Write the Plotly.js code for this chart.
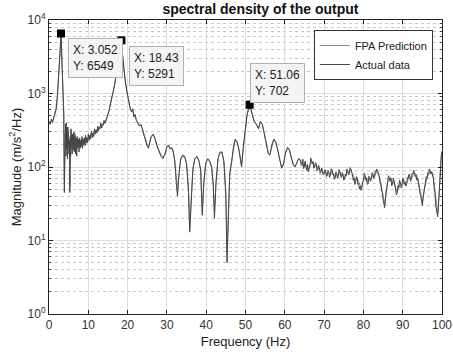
<!DOCTYPE html>
<html>
<head>
<meta charset="utf-8">
<script src="https://cdn.plot.ly/plotly-3.0.1.min.js"></script>
<style>html,body{margin:0;padding:0;background:#fff;}#chart{width:453px;height:358px;}</style>
</head>
<body>
<div id="chart"></div>
<script>
var freqFPA = [0,0.3,0.6,0.9,1.2,1.5,1.8,2.1,2.4,2.7,3.052,3.3,3.6,3.8,3.9,4.0,4.2,4.4,4.6,4.8,5.0,5.2,5.3,5.4,5.6,5.8,6.0,6.3,6.6,6.9,7.2,7.5,7.8,8.1,8.4,8.7,9.0,9.3,9.6,10.0,10.4,10.8,11.2,11.6,12.0,12.4,12.8,13.2,13.6,14.0,14.4,14.8,15.2,15.6,16.0,16.4,16.8,17.2,17.6,18.0,18.43,18.7,19.0,19.4,19.8,20.2,20.6,21.0,21.3,21.6,21.9,22.2,22.6,23.0,23.4,23.8,24.2,24.6,25.0,25.3,25.6,26.0,26.5,27.0,27.5,28.0,28.5,29.0,29.5,30.0,30.4,30.8,31.2,31.6,32.0,32.4,32.7,33.0,33.5,34.0,34.5,35.0,35.5,35.8,36.1,36.6,37.1,37.6,38.1,38.6,39.0,39.4,39.9,40.4,40.9,41.4,41.8,42.1,42.5,43.0,43.5,44.0,44.5,45.0,45.3,45.6,46.0,46.5,47.0,47.4,47.8,48.2,48.6,49.0,49.4,49.9,50.4,51.06,51.6,52.2,52.8,53.3,53.8,54.3,54.8,55.3,55.8,56.2,56.7,57.2,57.7,58.2,58.7,59.2,59.7,60.2,60.7,61.2,61.7,62.2,62.6,63.0,63.5,64.0,64.4,64.8,65.2,65.6,66.0,66.4,66.8,67.2,67.6,68.0,68.4,68.8,69.2,69.6,70.0,70.4,70.8,71.2,71.6,72.0,72.4,72.8,73.2,73.6,74.0,74.4,74.8,75.2,75.6,76.0,76.4,76.8,77.2,77.6,78.0,78.4,78.8,79.2,79.6,80.0,80.4,80.8,81.2,81.6,82.0,82.4,82.8,83.2,83.6,84.0,84.4,84.8,85.2,85.5,85.8,86.2,86.6,87.0,87.4,87.8,88.2,88.6,89.0,89.4,89.8,90.2,90.6,91.0,91.4,91.8,92.2,92.6,93.0,93.4,93.8,94.2,94.6,95.0,95.4,95.8,96.2,96.6,97.0,97.4,97.8,98.2,98.6,98.9,99.2,99.5,99.8,100.0];

var fpaPrediction = [400,410,430,420,460,540,620,900,1500,3000,6400,2600,950,520,60,280,220,350,170,310,240,190,55,250,300,180,270,210,290,200,250,190,230,210,240,220,235,250,230,260,250,290,280,310,300,340,340,370,370,410,410,470,570,720,870,1080,1450,1950,2700,3900,5200,3400,2100,1450,1050,780,640,570,600,490,510,440,410,370,370,330,270,240,200,185,215,255,275,245,195,165,145,135,150,185,195,180,180,160,125,70,45,75,125,140,138,112,50,15,35,95,128,138,122,92,25,65,112,128,118,98,58,24,65,128,155,158,118,45,7,25,85,125,195,235,225,185,145,105,175,330,510,690,550,415,375,335,410,375,285,205,155,148,195,235,215,172,125,100,112,155,180,168,132,108,102,112,128,122,108,98,115,92,88,102,120,115,102,106,95,96,88,88,82,86,78,83,80,89,82,72,80,77,85,74,78,70,78,87,84,92,82,72,64,70,62,57,54,64,75,72,62,70,69,78,74,83,88,77,62,48,35,31,48,62,70,71,60,64,52,46,53,60,57,66,63,60,68,73,70,78,83,79,72,57,43,33,47,62,72,80,88,85,72,48,28,23,38,85,135,165];

var freqActual = [0,0.3,0.6,0.9,1.2,1.5,1.8,2.1,2.4,2.7,3.052,3.3,
3.6,3.75,3.9,4.0,4.1,4.2,4.3,4.4,4.5,4.6,4.7,4.8,4.9,5.0,5.1,5.2,5.3,5.4,5.5,5.6,5.7,5.8,5.9,6.0,6.15,6.3,6.45,6.6,6.75,6.9,7.05,7.2,7.35,7.5,7.65,7.8,7.95,8.1,8.25,8.4,8.55,8.7,8.85,9.0,9.15,9.3,9.45,9.6,9.8,10.0,10.2,10.4,10.6,10.8,11.0,11.2,11.4,11.6,11.8,12.0,12.2,12.4,12.6,12.8,13.0,13.2,13.4,13.6,13.8,14.0,14.2,14.4,14.6,14.8,
15.2,15.6,16.0,16.4,16.8,17.2,17.6,18.0,18.43,18.7,19.0,19.4,19.8,20.2,20.6,21.0,21.3,21.6,21.9,22.2,22.6,23.0,23.4,23.8,24.2,24.6,25.0,25.3,25.6,26.0,26.5,27.0,27.5,28.0,28.5,29.0,29.5,30.0,30.4,30.8,31.2,31.6,32.0,32.4,32.7,33.0,33.5,34.0,34.5,35.0,35.5,35.8,36.1,36.6,37.1,37.6,38.1,38.6,39.0,39.4,39.9,40.4,40.9,41.4,41.8,42.1,42.5,43.0,43.5,44.0,44.5,45.0,45.3,45.6,46.0,46.5,47.0,47.4,47.8,48.2,48.6,49.0,49.4,49.9,50.4,51.06,51.6,52.2,52.8,53.3,53.8,54.3,54.8,55.3,55.8,56.2,56.7,57.2,57.7,58.2,58.7,59.2,59.7,60.2,60.7,61.2,61.7,62.2,62.6,63.0,63.5,
64.0,64.2,64.4,64.6,64.8,65.0,65.2,65.4,65.6,65.8,
66.0,66.2,66.4,66.6,66.8,67.0,67.2,67.4,67.6,67.8,
68.0,68.2,68.4,68.6,68.8,69.0,69.2,69.4,69.6,69.8,
70.0,70.2,70.4,70.6,70.8,71.0,71.2,71.4,71.6,71.8,
72.0,72.2,72.4,72.6,72.8,73.0,73.2,73.4,73.6,73.8,
74.0,74.2,74.4,74.6,74.8,75.0,75.2,75.4,75.6,75.8,
76.0,76.2,76.4,76.6,76.8,77.0,77.2,77.4,77.6,77.8,
78.0,78.2,78.4,78.6,78.8,79.0,79.2,79.4,79.6,79.8,
80.0,80.2,80.4,80.6,80.8,81.0,81.2,81.4,81.6,81.8,
82.0,82.2,82.4,82.6,82.8,83.0,83.2,83.4,83.6,83.8,
84.0,84.2,84.4,84.6,84.8,85.0,85.2,85.4,85.6,85.8,
86.0,86.2,86.4,86.6,86.8,87.0,87.2,87.4,87.6,87.8,
88.0,88.2,88.4,88.6,88.8,89.0,89.2,89.4,89.6,89.8,
90.0,90.2,90.4,90.6,90.8,91.0,91.2,91.4,91.6,91.8,
92.0,92.2,92.4,92.6,92.8,93.0,93.2,93.4,93.6,93.8,
94.0,94.2,94.4,94.6,94.8,95.0,95.2,95.4,95.6,95.8,
96.0,96.2,96.4,96.6,96.8,97.0,97.2,97.4,97.6,97.8,
98.0,98.2,98.4,98.6,98.8,98.9,99.1,99.3,99.5,99.7,99.85,100.0];

var actualData = [420,380,450,400,470,520,600,850,1400,2800,6549,2500,
900,500,45,300,160,380,140,400,180,320,130,350,200,280,150,230,45,260,140,330,170,300,150,280,170,300,160,270,150,250,140,260,180,240,160,250,180,230,190,260,180,240,200,250,195,270,210,250,215,280,230,270,240,310,250,290,260,330,280,320,290,360,310,350,330,400,340,380,370,430,390,420,440,480,
560,700,850,1050,1400,1900,2600,3800,5291,3500,2200,1500,1100,800,650,560,620,480,520,430,400,360,380,320,260,230,190,180,220,260,280,240,190,160,140,130,150,190,200,175,185,165,120,60,40,70,130,145,140,110,45,13,30,90,130,140,125,90,22,60,115,130,120,100,55,20,60,130,160,160,120,40,5,20,80,120,200,240,220,190,140,100,180,340,520,702,560,420,380,330,420,380,280,200,150,145,200,240,220,170,120,96,110,160,185,170,130,105,100,115,130,
125,105,110,128,95,112,120,98,90,108,
86,100,105,132,125,110,118,96,100,115,
110,88,92,105,98,82,85,97,90,78,
80,92,88,74,76,90,85,72,78,95,
92,78,80,68,70,86,82,70,75,92,
88,74,72,84,80,66,68,80,76,94,
90,78,82,98,95,84,80,66,70,58,
62,74,72,58,60,50,55,48,52,62,
66,82,78,66,70,58,60,75,72,64,
68,84,80,70,72,88,85,94,90,78,
75,62,60,48,45,36,32,28,38,45,
52,60,76,72,64,70,56,58,70,66,
54,50,42,44,56,52,66,62,52,55,
70,68,58,62,55,58,72,70,80,75,
64,68,82,80,90,85,74,78,66,70,
58,55,44,40,32,30,38,45,56,60,
74,70,84,82,94,90,80,86,74,70,
52,45,30,25,22,21,30,50,80,120,150,160];

var tipX = [3.052, 18.43, 51.06];
var tipY = [6549, 5291, 702];
var tipLabels = ['X: 3.052<br>Y: 6549', 'X: 18.43<br>Y: 5291', 'X: 51.06<br>Y: 702'];
var tipOffsetX = [35, 35, 28];
var tipOffsetY = [24, 26, -22];

var yTickVals = [1, 10, 100, 1000, 10000];
var yTickText = ['10<sup>0</sup>', '10<sup>1</sup>', '10<sup>2</sup>', '10<sup>3</sup>', '10<sup>4</sup>'];

var FONT = 'Liberation Sans, Arial, sans-serif';

var traces = [
  {x: freqFPA, y: fpaPrediction, type: 'scatter', mode: 'lines', name: 'FPA Prediction',
   line: {color: '#8c8c8c', width: 1}},
  {x: freqActual, y: actualData, type: 'scatter', mode: 'lines', name: 'Actual data',
   line: {color: '#444444', width: 1}},
  {x: tipX, y: tipY, type: 'scatter', mode: 'markers', showlegend: false, hoverinfo: 'skip',
   marker: {symbol: 'square', size: 8, color: '#000'}}
];

var annotations = tipX.map(function(xv, i) {
  return {x: xv, y: Math.log10(tipY[i]), xref: 'x', yref: 'y', text: tipLabels[i],
    showarrow: true, arrowcolor: 'rgba(0,0,0,0)', ax: tipOffsetX[i], ay: tipOffsetY[i],
    align: 'left', bgcolor: '#f4f4f4', bordercolor: '#b0b0b0', borderwidth: 1, borderpad: 4,
    font: {family: FONT, size: 12, color: '#222'}};
});

var layout = {
  width: 453, height: 358,
  margin: {l: 49, r: 11, t: 20, b: 44},
  paper_bgcolor: '#fff', plot_bgcolor: '#fff',
  font: {family: FONT, size: 12, color: '#333'},
  title: {text: '<b>spectral density of the output</b>', font: {family: FONT, size: 14, color: '#111'},
          x: 0.575, xanchor: 'center', y: 0.975, yanchor: 'middle'},
  xaxis: {range: [0, 100], dtick: 10, tick0: 0, showline: true, linecolor: '#222', linewidth: 1,
          mirror: 'ticks', ticks: 'inside', ticklen: 4, tickcolor: '#222',
          showgrid: true, gridcolor: '#dcdcdc', zeroline: false,
          tickfont: {family: FONT, size: 12, color: '#333'},
          title: {text: 'Frequency (Hz)', font: {family: FONT, size: 13, color: '#222'}, standoff: 5}},
  yaxis: {type: 'log', range: [0, 4], tickmode: 'array', tickvals: yTickVals, ticktext: yTickText,
          showline: true, linecolor: '#222', linewidth: 1, mirror: 'ticks', ticks: 'inside', ticklen: 4,
          tickcolor: '#222', showgrid: true, gridcolor: '#dcdcdc', zeroline: false,
          tickfont: {family: FONT, size: 12, color: '#333'},
          minor: {dtick: 'D1', showgrid: true, gridcolor: '#c8c8c8', griddash: 'dot', ticks: 'inside', ticklen: 2, tickcolor: '#444'},
          title: {text: 'Magnitude (m/s<sup>2</sup>/Hz)', font: {family: FONT, size: 13, color: '#222'}, standoff: 3}},
  legend: {x: 0.674, y: 0.966, xanchor: 'left', yanchor: 'top', bgcolor: '#fff', bordercolor: '#333',
           borderwidth: 1, font: {family: FONT, size: 11, color: '#222'}, tracegroupgap: 0},
  annotations: annotations,
  showlegend: true
};

Plotly.newPlot('chart', traces, layout, {displayModeBar: false, staticPlot: true});
</script>
</body>
</html>
